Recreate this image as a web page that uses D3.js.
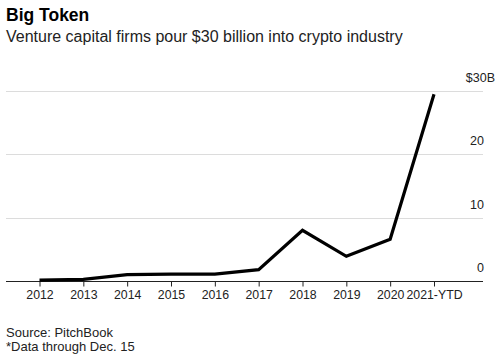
<!DOCTYPE html>
<html>
<head>
<meta charset="utf-8">
<script src="https://cdn.jsdelivr.net/npm/d3@7"></script>
<style>
  html, body { margin: 0; padding: 0; background: #fff; }
  svg { display: block; font-family: "Liberation Sans", Arial, sans-serif; }
</style>
</head>
<body>
<svg id="chart" width="502" height="358"></svg>
<script>
const categories = ["2012", "2013", "2014", "2015", "2016", "2017", "2018", "2019", "2020", "2021-YTD"];
const values = [0.15, 0.27, 1.0, 1.1, 1.1, 1.8, 8.0, 3.9, 6.6, 29.5];
const yTicks = [0, 10, 20, 30];
const yTickLabels = ["0", "10", "20", "$30B"];

const svg = d3.select("#chart");

const x = d3.scalePoint().domain(categories).range([39.5, 434]);
const y = d3.scaleLinear().domain([0, 30]).range([281, 91]);

const gridLeft = 6, gridRight = 483;

// Title & subtitle
svg.append("text").attr("x", 6).attr("y", 21)
  .attr("font-size", 17.5).attr("font-weight", "bold").attr("fill", "#000")
  .text("Big Token");
svg.append("text").attr("x", 6).attr("y", 42)
  .attr("font-size", 16).attr("fill", "#222")
  .text("Venture capital firms pour $30 billion into crypto industry");

// Gridlines
svg.append("g").selectAll("line")
  .data(yTicks.filter(d => d !== 0))
  .join("line")
  .attr("x1", gridLeft).attr("x2", gridRight)
  .attr("y1", d => Math.round(y(d)) + 0.5).attr("y2", d => Math.round(y(d)) + 0.5)
  .attr("stroke", "#dcdcdc").attr("stroke-width", 1);

// Y labels
svg.append("g").selectAll("text")
  .data(yTicks)
  .join("text")
  .attr("x", (d, i) => yTickLabels[i].includes("B") ? 495 : 484)
  .attr("y", d => y(d) - 9)
  .attr("text-anchor", "end")
  .attr("font-size", 12.5).attr("fill", "#222")
  .text((d, i) => yTickLabels[i]);

// X axis
const xAxis = d3.axisBottom(x).tickSize(5).tickPadding(4);
const gx = svg.append("g").attr("transform", `translate(0,${Math.round(y(0)) + 0.5})`).call(xAxis);
gx.select(".domain").remove();
gx.insert("line", ":first-child")
  .attr("x1", gridLeft).attr("x2", gridRight).attr("y1", 0).attr("y2", 0)
  .attr("stroke", "#222").attr("stroke-width", 1);
gx.selectAll(".tick line").attr("stroke", "#222");
gx.selectAll(".tick text").attr("font-size", 12.3).attr("fill", "#222")
  .attr("font-family", "Liberation Sans, Arial, sans-serif");

// Line
const line = d3.line().x((d, i) => x(categories[i])).y(d => y(d));
svg.append("path")
  .datum(values)
  .attr("d", line)
  .attr("fill", "none")
  .attr("stroke", "#000")
  .attr("stroke-width", 3.2)
  .attr("stroke-linejoin", "miter");

// Footer
svg.append("text").attr("x", 6).attr("y", 337)
  .attr("font-size", 13).attr("fill", "#222")
  .text("Source: PitchBook");
svg.append("text").attr("x", 6).attr("y", 351)
  .attr("font-size", 13).attr("fill", "#222")
  .text("*Data through Dec. 15");
</script>
</body>
</html>
